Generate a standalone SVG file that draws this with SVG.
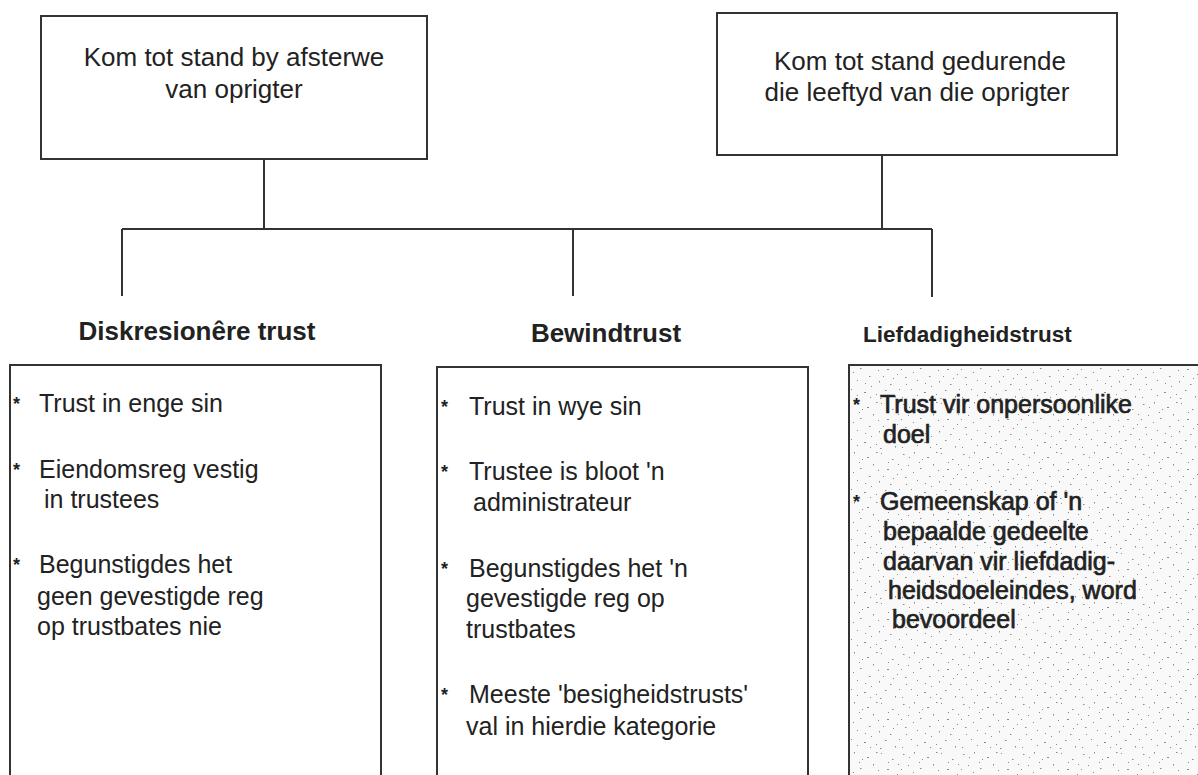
<svg xmlns="http://www.w3.org/2000/svg" width="1198" height="775" viewBox="0 0 1198 775">
<defs>
<style>
.box{fill:none;stroke:#333;stroke-width:2}
.ln{fill:none;stroke:#333;stroke-width:2}
.t{font-family:"Liberation Sans",Arial,sans-serif;font-size:25px;fill:#222}
.title{font-size:26px}
.h{font-family:"Liberation Sans",Arial,sans-serif;font-weight:bold;font-size:26px;fill:#222}
.ast{font-family:"Liberation Sans",Arial,sans-serif;font-weight:bold;font-size:18px;fill:#222}
.heavy{stroke:#222;stroke-width:0.7}
</style>
<pattern id="speckle" width="60" height="50" patternUnits="userSpaceOnUse">
<rect width="60" height="50" fill="#f9f9f9"/>
<g fill="#8a8a8a">
<rect x="3" y="4" width="1.5" height="1"/><rect x="14" y="2" width="1" height="1.5"/><rect x="27" y="7" width="2" height="1"/>
<rect x="41" y="3" width="1" height="1"/><rect x="52" y="9" width="1.5" height="1"/><rect x="8" y="15" width="1" height="1"/>
<rect x="20" y="18" width="1.5" height="1"/><rect x="33" y="14" width="1" height="1.5"/><rect x="47" y="19" width="2" height="1"/>
<rect x="57" y="24" width="1" height="1"/><rect x="5" y="27" width="1.5" height="1"/><rect x="17" y="30" width="1" height="1"/>
<rect x="29" y="26" width="1.5" height="1"/><rect x="39" y="31" width="1" height="1.5"/><rect x="50" y="34" width="1.5" height="1"/>
<rect x="11" y="39" width="1" height="1"/><rect x="24" y="42" width="2" height="1"/><rect x="36" y="44" width="1" height="1"/>
<rect x="45" y="40" width="1.5" height="1"/><rect x="55" y="46" width="1" height="1.5"/><rect x="2" y="47" width="1" height="1"/>
<rect x="31" y="36" width="1" height="1"/><rect x="22" y="9" width="1" height="1"/><rect x="43" y="26" width="1" height="1"/>
<rect x="9" y="7" width="1" height="1"/><rect x="36" y="2" width="1.5" height="1"/><rect x="58" y="14" width="1" height="1"/>
<rect x="13" y="22" width="1" height="1"/><rect x="25" y="33" width="1" height="1"/><rect x="53" y="28" width="1" height="1"/>
<rect x="6" y="34" width="1" height="1"/><rect x="40" y="48" width="1.5" height="1"/><rect x="17" y="45" width="1" height="1"/>
<rect x="48" y="12" width="1" height="1"/><rect x="38" y="20" width="1" height="1"/><rect x="1" y="19" width="1" height="1"/>
<rect x="30" y="47" width="1" height="1"/><rect x="59" y="39" width="1" height="1"/><rect x="19" y="12" width="1" height="1"/>
</g>
</pattern>
</defs>
<rect width="1198" height="775" fill="#ffffff"/>

<g id="connectors">
<line class="ln" x1="264" y1="159" x2="264" y2="229"/>
<line class="ln" x1="882" y1="155" x2="882" y2="229"/>
<line class="ln" x1="122" y1="229" x2="932" y2="229"/>
<line class="ln" x1="122" y1="229" x2="122" y2="296"/>
<line class="ln" x1="573" y1="229" x2="573" y2="296"/>
<line class="ln" x1="932" y1="229" x2="932" y2="297"/>
</g>

<g id="node-afsterwe">
<rect class="box" x="41" y="16" width="386" height="143"/>
<text class="t title" x="234" y="66" text-anchor="middle">Kom tot stand by afsterwe</text>
<text class="t title" x="234" y="98" text-anchor="middle">van oprigter</text>
</g>

<g id="node-leeftyd">
<rect class="box" x="717" y="13" width="400" height="142"/>
<text class="t title" x="920" y="70" text-anchor="middle">Kom tot stand gedurende</text>
<text class="t title" x="917" y="101" text-anchor="middle">die leeftyd van die oprigter</text>
</g>

<g id="node-diskresionere">
<text class="h" x="197" y="340" text-anchor="middle">Diskresionêre trust</text>
<rect class="box" x="10" y="365" width="371" height="430"/>
<text class="ast" x="13" y="410">*</text>
<text class="t" x="39" y="412">Trust in enge sin</text>
<text class="ast" x="13" y="476">*</text>
<text class="t" x="39" y="478">Eiendomsreg vestig</text>
<text class="t" x="44" y="508">in trustees</text>
<text class="ast" x="13" y="571">*</text>
<text class="t" x="39" y="573">Begunstigdes het</text>
<text class="t" x="37" y="605">geen gevestigde reg</text>
<text class="t" x="37" y="635">op trustbates nie</text>
</g>

<g id="node-bewindtrust">
<text class="h" x="606" y="342" text-anchor="middle">Bewindtrust</text>
<rect class="box" x="437" y="367" width="371" height="430"/>
<text class="ast" x="441" y="413">*</text>
<text class="t" x="469" y="415">Trust in wye sin</text>
<text class="ast" x="441" y="478">*</text>
<text class="t" x="469" y="480">Trustee is bloot 'n</text>
<text class="t" x="473" y="511">administrateur</text>
<text class="ast" x="441" y="575">*</text>
<text class="t" x="469" y="577">Begunstigdes het 'n</text>
<text class="t" x="466" y="607">gevestigde reg op</text>
<text class="t" x="466" y="638">trustbates</text>
<text class="ast" x="441" y="701">*</text>
<text class="t" x="469" y="703">Meeste 'besigheidstrusts'</text>
<text class="t" x="466" y="735">val in hierdie kategorie</text>
</g>

<g id="node-liefdadigheid">
<text class="h" x="863" y="342" style="font-size:22.5px">Liefdadigheidstrust</text>
<rect x="849" y="365" width="360" height="430" fill="url(#speckle)" stroke="#333" stroke-width="2"/>
<text class="ast" x="853" y="411">*</text>
<text class="t heavy" x="880" y="413">Trust vir onpersoonlike</text>
<text class="t heavy" x="883" y="443">doel</text>
<text class="ast" x="853" y="508">*</text>
<text class="t heavy" x="880" y="510">Gemeenskap of 'n</text>
<text class="t heavy" x="883" y="540">bepaalde gedeelte</text>
<text class="t heavy" x="883" y="570">daarvan vir liefdadig-</text>
<text class="t heavy" x="888" y="599">heidsdoeleindes, word</text>
<text class="t heavy" x="892" y="628">bevoordeel</text>
</g>
</svg>
